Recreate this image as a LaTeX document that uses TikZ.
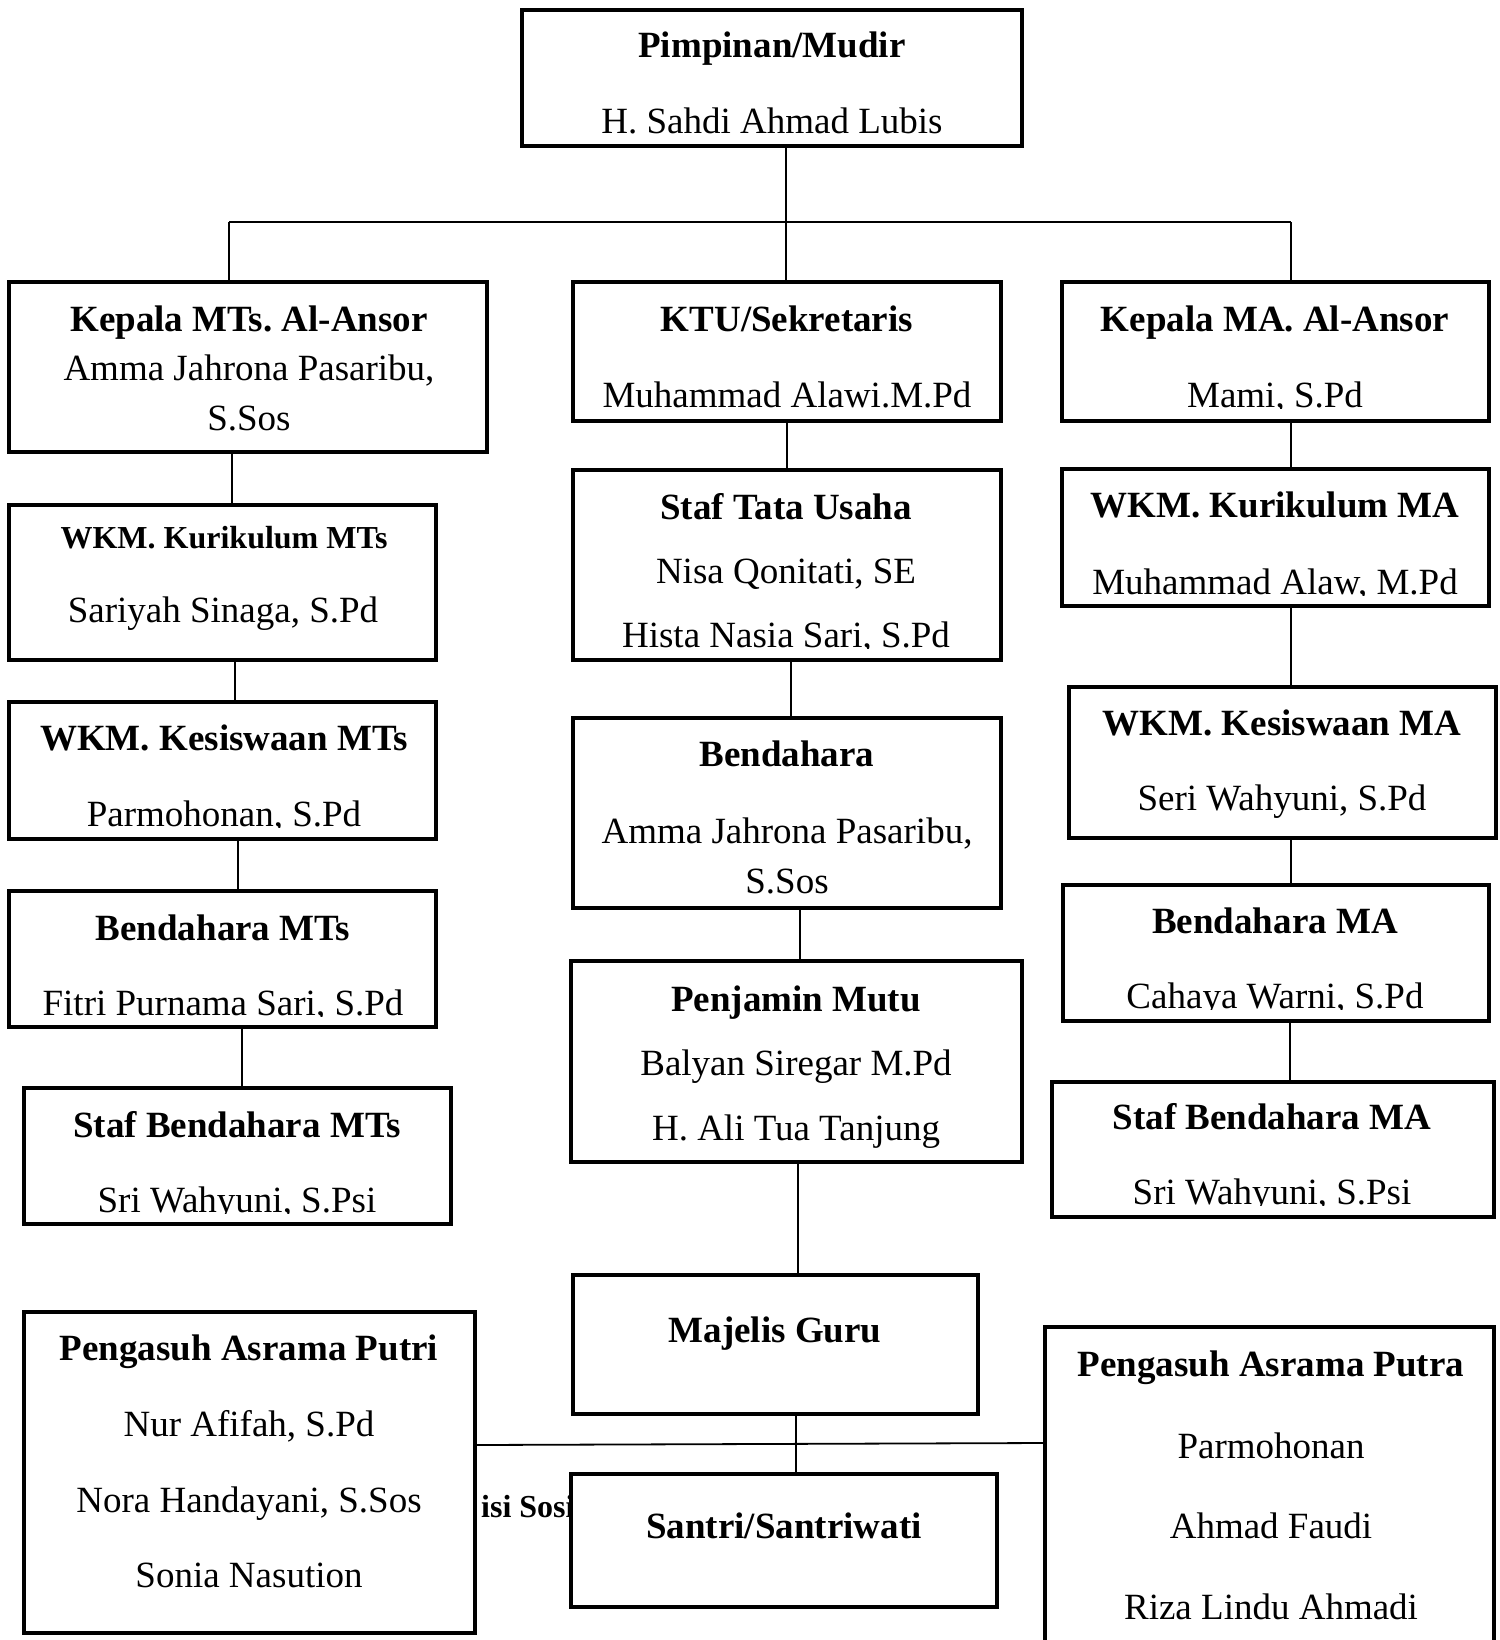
\documentclass[tikz,border=0pt]{standalone}
\usepackage{fontspec}
\setmainfont{Liberation Serif}
\frenchspacing
\pgfdeclarelayer{bg}
\pgfsetlayers{bg,main}
\newcommand\obox[5]{\node[box, minimum width={(#4-#2)*1pt}, minimum height={(#5-#3)*1pt}] (#1) at (#2,#3) {};}
\newcommand\ctext[5]{\begin{scope}\clip (#2-320,#3-60) rectangle (#2+320,#3+1.2);
  \node[#4] (#1) at (#2,#3) {#5};\end{scope}}
\begin{document}
\begin{tikzpicture}[x=1pt,y=-1pt,
  box/.style={draw, line width=4.5pt, fill=white, rectangle, inner sep=0pt, outer sep=0pt, anchor=north west},
  conn/.style={line width=1.8pt},
  tb/.style={font=\fontsize{37}{44}\selectfont\bfseries\frenchspacing, anchor=base, inner sep=0pt},
  tbs/.style={font=\fontsize{32}{38}\selectfont\bfseries\frenchspacing, anchor=base, inner sep=0pt},
  tr/.style={font=\fontsize{37}{44}\selectfont\frenchspacing, anchor=base, inner sep=0pt}]
\useasboundingbox (0,0) rectangle (1499,1640);
% boxes
\obox{pim}{522}{10}{1022}{146}
\obox{kmts}{9}{282}{487}{452}
\obox{ktu}{573}{282}{1001}{421}
\obox{kma}{1062}{282}{1489}{421}
\obox{wkmkmts}{9}{505}{436}{660}
\obox{staftu}{573}{470}{1001}{660}
\obox{wkmkma}{1062}{469}{1489}{606}
\obox{wkmsmts}{9}{702}{436}{839}
\obox{bend}{573}{718}{1001}{908}
\obox{wkmsma}{1069}{687}{1496}{838}
\obox{bendmts}{9}{891}{436}{1027}
\obox{bendma}{1063}{885}{1489}{1021}
\obox{pm}{571}{961}{1022}{1162}
\obox{sbmts}{24}{1088}{451}{1224}
\obox{sbma}{1052}{1082}{1494}{1217}
\obox{mg}{573}{1275}{978}{1414}
\obox{putri}{24}{1312}{475}{1633}
\obox{putra}{1045}{1327}{1494}{1690}
\obox{santri}{571}{1474}{997}{1607}
% connectors
\begin{pgfonlayer}{bg}
\node[tbs, anchor=base west] (sosi) at (481,1517) {isi Sosi};
\coordinate (barL) at (229,222);
\coordinate (barR) at (1291,222);
\draw[conn] (786,0 |- pim.south) -- (786,0 |- ktu.north);
\draw[conn] (barL) -- (barR);
\draw[conn] (barL) -- (barL |- kmts.north);
\draw[conn] (barR) -- (barR |- kma.north);
\draw[conn] (232,0 |- kmts.south) -- (232,0 |- wkmkmts.north);
\draw[conn] (235,0 |- wkmkmts.south) -- (235,0 |- wkmsmts.north);
\draw[conn] (238,0 |- wkmsmts.south) -- (238,0 |- bendmts.north);
\draw[conn] (242,0 |- bendmts.south) -- (242,0 |- sbmts.north);
\draw[conn] (787,0 |- ktu.south) -- (787,0 |- staftu.north);
\draw[conn] (791,0 |- staftu.south) -- (791,0 |- bend.north);
\draw[conn] (800,0 |- bend.south) -- (800,0 |- pm.north);
\draw[conn] (798,0 |- pm.south) -- (798,0 |- mg.north);
\draw[conn] (796,0 |- mg.south) -- (796,0 |- santri.north);
\draw[conn] (1291,0 |- kma.south) -- (1291,0 |- wkmkma.north);
\draw[conn] (1291,0 |- wkmkma.south) -- (1291,0 |- wkmsma.north);
\draw[conn] (1291,0 |- wkmsma.south) -- (1291,0 |- bendma.north);
\draw[conn] (1290,0 |- bendma.south) -- (1290,0 |- sbma.north);
\draw[conn] (putri.east |- 0,1445) -- (putra.west |- 0,1443);
\end{pgfonlayer}
% texts
\node[tb] (t1) at (772,58) {Pimpinan/Mudir};
\node[tr] (t2) at (772,134) {H. Sahdi Ahmad Lubis};
\node[tb] (t3) at (249,331) {Kepala MTs. Al-Ansor};
\node[tr] (t4) at (249,380) {Amma Jahrona Pasaribu,};
\node[tr] (t5) at (249,430) {S.Sos};
\node[tb] (t6) at (787,331) {KTU/Sekretaris};
\ctext{t7}{787}{407}{tr}{Muhammad Alawi.M.Pd}
\node[tb] (t8) at (1275,331) {Kepala MA. Al-Ansor};
\ctext{t9}{1275}{407}{tr}{Mami, S.Pd}
\node[tbs] (t10) at (224,548) {WKM. Kurikulum MTs};
\node[tr] (t11) at (223,622) {Sariyah Sinaga, S.Pd};
\node[tb] (t12) at (786,519) {Staf Tata Usaha};
\node[tr] (t13) at (786,583) {Nisa Qonitati, SE};
\ctext{t14}{786}{647}{tr}{Hista Nasia Sari, S.Pd}
\node[tb] (t15) at (1275,517) {WKM. Kurikulum MA};
\ctext{t16}{1275}{594}{tr}{Muhammad Alaw, M.Pd}
\node[tb] (t17) at (224,750) {WKM. Kesiswaan MTs};
\ctext{t18}{224}{826}{tr}{Parmohonan, S.Pd}
\node[tb] (t19) at (787,766) {Bendahara};
\node[tr] (t20) at (787,843) {Amma Jahrona Pasaribu,};
\node[tr] (t21) at (787,893) {S.Sos};
\node[tb] (t22) at (1282,735) {WKM. Kesiswaan MA};
\node[tr] (t23) at (1282,810) {Seri Wahyuni, S.Pd};
\node[tb] (t24) at (223,940) {Bendahara MTs};
\ctext{t25}{223}{1015}{tr}{Fitri Purnama Sari, S.Pd}
\node[tb] (t26) at (1275,933) {Bendahara MA};
\ctext{t27}{1275}{1008}{tr}{Cahaya Warni, S.Pd}
\node[tb] (t28) at (796,1011) {Penjamin Mutu};
\node[tr] (t29) at (796,1075) {Balyan Siregar M.Pd};
\node[tr] (t30) at (796,1140) {H. Ali Tua Tanjung};
\node[tb] (t31) at (237,1137) {Staf Bendahara MTs};
\ctext{t32}{237}{1212}{tr}{Sri Wahyuni, S.Psi}
\node[tb] (t33) at (1272,1129) {Staf Bendahara MA};
\ctext{t34}{1272}{1204}{tr}{Sri Wahyuni, S.Psi}
\node[tb] (t35) at (775,1342) {Majelis Guru};
\node[tb] (t36) at (249,1360) {Pengasuh Asrama Putri};
\node[tr] (t37) at (249,1436) {Nur Afifah, S.Pd};
\node[tr] (t38) at (249,1512) {Nora Handayani, S.Sos};
\node[tr] (t39) at (249,1587) {Sonia Nasution};
\node[tb] (t40) at (1271,1376) {Pengasuh Asrama Putra};
\node[tr] (t41) at (1271,1458) {Parmohonan};
\node[tr] (t42) at (1271,1538) {Ahmad Faudi};
\node[tr] (t43) at (1271,1619) {Riza Lindu Ahmadi};
\node[tb] (t44) at (784,1538) {Santri/Santriwati};
\end{tikzpicture}
\end{document}
